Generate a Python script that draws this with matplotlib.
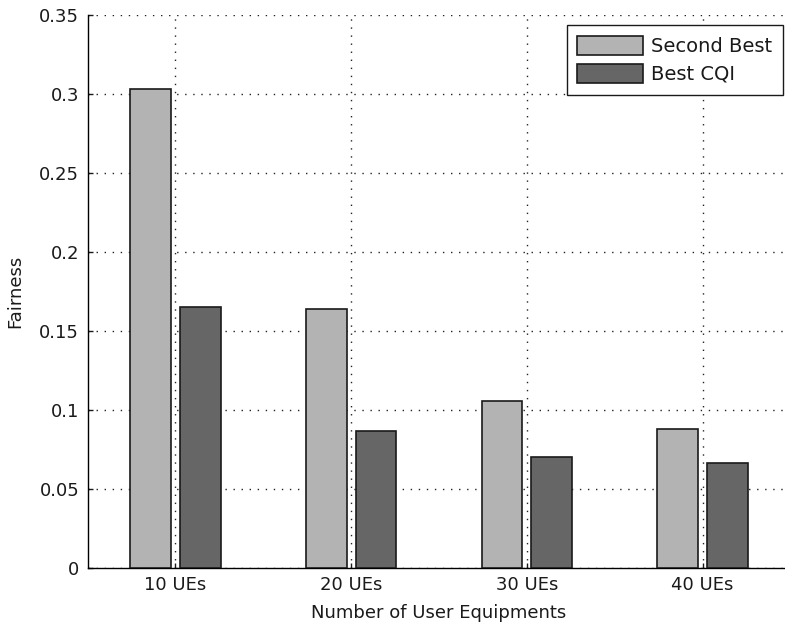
import numpy as np
import matplotlib
matplotlib.use('Agg')
import matplotlib.pyplot as plt

# Dados
categorias = ['10 UEs', '20 UEs', '30 UEs', '40 UEs']
second_best = [0.303, 0.164, 0.106, 0.088]
best_cqi = [0.165, 0.087, 0.0705, 0.0665]
yticks = [0, 0.05, 0.1, 0.15, 0.2, 0.25, 0.3, 0.35]
ytick_labels = ['0', '0.05', '0.1', '0.15', '0.2', '0.25', '0.3', '0.35']

plt.rcParams['font.family'] = 'DejaVu Sans'
plt.rcParams['font.size'] = 13

fig = plt.figure(figsize=(7.85, 6.28), dpi=100)
ax = fig.add_axes([87.5 / 785, 60 / 628, 703 / 785, 553 / 628])

x = np.arange(1, len(categorias) + 1)
largura = 0.232
ax.bar(x - 0.142, second_best, largura, color='#b3b3b3', edgecolor='#1a1a1a',
       linewidth=1.2, label='Second Best', zorder=3)
ax.bar(x + 0.142, best_cqi, largura, color='#666666', edgecolor='#1a1a1a',
       linewidth=1.2, label='Best CQI', zorder=3)

ax.set_xlim(0.5, 4.5)
ax.set_ylim(0, 0.35)
ax.set_xticks(x)
ax.set_xticklabels(categorias)
ax.set_yticks(yticks)
ax.set_yticklabels(ytick_labels)

# grade pontilhada estilo MATLAB
ax.grid(True, color='#222222', linestyle=(0, (1, 4.8)), linewidth=1.0)
ax.set_axisbelow(True)

ax.spines['top'].set_visible(False)
ax.spines['right'].set_visible(False)
ax.spines['left'].set_linewidth(1.0)
ax.spines['bottom'].set_linewidth(1.0)
ax.tick_params(direction='in', length=3.6, width=1.0, colors='#1a1a1a')
ax.tick_params(axis='y', pad=6)
ax.tick_params(axis='x', pad=6)

ax.set_xlabel('Number of User Equipments', color='#1a1a1a', labelpad=7)
ax.set_ylabel('Fairness', color='#1a1a1a', labelpad=11)

leg = ax.legend(loc='upper right', bbox_to_anchor=(783 / 785, 1 - 25 / 628),
                bbox_transform=fig.transFigure, borderaxespad=0, fancybox=False,
                framealpha=1, edgecolor='#1a1a1a', fontsize=14, handlelength=3.4,
                handleheight=1.15, handletextpad=0.4, borderpad=0.55,
                labelspacing=0.4)
leg.get_frame().set_linewidth(1.0)
for t in leg.get_texts():
    t.set_color('#1a1a1a')

fig.savefig('out.png', dpi=100)
plt.close(fig)
